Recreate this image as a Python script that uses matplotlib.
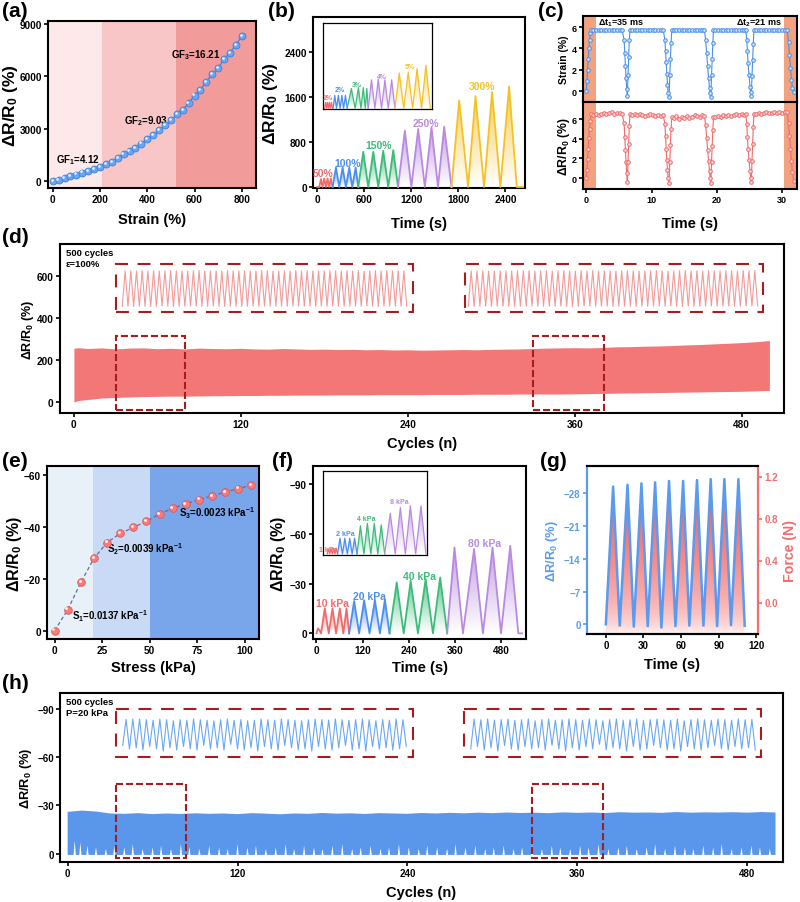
import numpy as np
import matplotlib
matplotlib.use("Agg")
import matplotlib.pyplot as plt
from matplotlib.colors import to_rgb
from matplotlib.patches import Rectangle
from matplotlib.transforms import offset_copy

plt.rcParams["font.family"] = ["Liberation Sans", "DejaVu Sans"]
plt.rcParams["font.weight"] = "bold"
plt.rcParams["axes.labelweight"] = "bold"
plt.rcParams["axes.linewidth"] = 1.5
plt.rcParams["mathtext.fontset"] = "custom"
plt.rcParams["mathtext.rm"] = "Liberation Sans:bold"
plt.rcParams["mathtext.bf"] = "Liberation Sans:bold"
plt.rcParams["mathtext.it"] = "Liberation Sans:bold"
plt.rcParams["mathtext.default"] = "bf"

# ---------------- (a) strain response ----------------
a_strain = [0, 25, 50, 75, 100, 125, 150, 175, 200, 225, 250, 275, 300, 325, 350, 375, 400,
            425, 450, 475, 500, 525, 550, 575, 600, 625, 650, 675, 700, 725, 750, 775, 800]
a_resp = [0, 70, 160, 260, 370, 480, 590, 700, 820, 950, 1090, 1300, 1560, 1720, 1900, 2150, 2380,
          2650, 2900, 3190, 3470, 3820, 4080, 4470, 4900, 5230, 5690, 6130, 6470, 7000, 7350, 7800, 8300]
a_regions = [210, 520]
a_gf = ["GF$_1$=4.12", "GF$_2$=9.03", "GF$_3$=16.21"]
a_gf_pos = [(15, 1250), (300, 3470), (501, 7290)]

# ---------------- (b) step strains ----------------
b_labels = ["50%", "100%", "150%", "250%", "300%"]
b_times = [
    [0, 25, 46, 67, 88, 110, 131, 152, 173, 195],
    [195, 238, 280, 323, 365, 408, 446, 489, 523],
    [523, 586, 650, 714, 778, 841, 905, 969, 1030],
    [1030, 1117, 1200, 1287, 1372, 1457, 1540, 1619, 1712],
    [1712, 1810, 1924, 2018, 2128, 2230, 2336, 2447, 2545, 2625],
]
b_values = [
    [0, 0, 140, 0, 150, 0, 150, 0, 150, 0],
    [0, 345, 0, 345, 0, 345, 0, 345, 0],
    [0, 625, 0, 625, 0, 643, 0, 655, 0],
    [0, 1000, 0, 1030, 0, 1060, 0, 1072, 0],
    [0, 1537, 0, 1614, 0, 1686, 0, 1787, 0, 0],
]
b_label_pos = [(77, 244), (382, 435), (786, 750), (1380, 1138), (2107, 1793)]
bi_labels = ["1%", "2%", "3%", "4%", "5%"]
bi_times = [
    [1.5, 2.4, 3.3, 4.2, 5.1, 6.0, 6.9, 7.8, 8.7],
    [9.2, 10.8, 12.4, 14.1, 15.7, 17.3, 18.9, 20.6, 22.2],
    [22.2, 26.0, 29.5, 32.5, 34.8, 37.0, 38.8, 40.2, 41.5],
    [41.5, 44.5, 47.6, 50.7, 53.7, 56.8, 59.9, 63.0, 66.0],
    [66.0, 70.0, 74.1, 78.2, 82.2, 86.3, 90.4, 94.4, 98.5, 100],
]
bi_values = [
    [0, 7, 0, 7, 0, 7, 0, 7, 0],
    [0, 15, 0, 15, 0, 15, 0, 15, 0],
    [0, 23, 0, 24, 0, 24, 0, 23, 0],
    [0, 33, 0, 34, 0, 33, 0, 33, 0],
    [0, 41, 0, 42, 0, 46, 0, 50, 0, 0],
]
bi_label_pos = [(4.6, 12), (15, 22), (31, 28), (54, 37), (80, 48)]

# ---------------- (c) fast response ----------------
c_time = [0.0, 0.1, 0.2, 0.3, 0.4, 0.5, 0.6, 0.75,
          1.1, 1.5, 1.9, 2.3, 2.7, 3.1, 3.5, 3.9, 4.3, 4.7, 5.1, 5.5,
          5.8, 5.9, 6.0, 6.1, 6.2, 6.3,
          6.4, 6.5, 6.6, 6.7,
          7.0, 7.4, 7.8, 8.2, 8.6, 9.0, 9.4, 9.8, 10.2, 10.6, 11.0, 11.4, 11.8,
          12.05, 12.15, 12.25, 12.35, 12.45, 12.55, 12.7,
          12.8, 12.9, 13.0, 13.1,
          13.4, 13.8, 14.2, 14.6, 15.0, 15.4, 15.8, 16.2, 16.6, 17.0, 17.4, 17.8, 18.1,
          18.3, 18.45, 18.6, 18.75, 18.9, 19.0, 19.1,
          19.2, 19.3, 19.4, 19.5,
          19.8, 20.2, 20.6, 21.0, 21.4, 21.8, 22.2, 22.6, 23.0, 23.4, 23.8, 24.2, 24.45,
          24.6, 24.7, 24.8, 24.95, 25.1, 25.2, 25.3,
          25.4, 25.5, 25.6, 25.7,
          26.0, 26.4, 26.8, 27.2, 27.6, 28.0, 28.4, 28.8, 29.2, 29.6, 30.0, 30.4, 30.8,
          31.0, 31.15, 31.3, 31.45, 31.6, 31.8]
c_strain = [0.0, 1.0, 2.0, 3.0, 4.0, 4.8, 5.4, 5.7,
            5.7, 5.7, 5.7, 5.7, 5.7, 5.7, 5.7, 5.7, 5.7, 5.7, 5.7, 5.7,
            4.8, 3.6, 2.4, 1.2, 0.2, -0.4,
            1.5, 3.2, 4.8, 5.7,
            5.7, 5.7, 5.7, 5.7, 5.7, 5.7, 5.7, 5.7, 5.7, 5.7, 5.7, 5.7, 5.7,
            4.8, 3.8, 2.7, 1.6, 0.6, -0.2, -0.5,
            1.5, 3.0, 4.5, 5.7,
            5.7, 5.7, 5.7, 5.7, 5.7, 5.7, 5.7, 5.7, 5.7, 5.7, 5.7, 5.7, 5.7,
            4.8, 3.6, 2.4, 1.2, 0.3, -0.2, -0.5,
            1.5, 3.0, 4.5, 5.7,
            5.7, 5.7, 5.7, 5.7, 5.7, 5.7, 5.7, 5.7, 5.7, 5.7, 5.7, 5.7, 5.7,
            4.8, 3.8, 2.6, 1.5, 0.4, -0.1, -0.4,
            1.4, 2.9, 4.4, 5.7,
            5.7, 5.7, 5.7, 5.7, 5.7, 5.7, 5.7, 5.7, 5.7, 5.7, 5.7, 5.7, 5.7,
            4.6, 3.4, 2.2, 1.1, 0.3, -0.1]
c_resp = [0.0, 0.8, 1.9, 3.0, 4.1, 5.0, 5.8, 6.5,
          6.4, 6.5, 6.4, 6.5, 6.6, 6.5, 6.6, 6.7, 6.5, 6.6, 6.6, 6.5,
          5.6, 4.2, 2.9, 1.6, 0.5, -0.4,
          1.6, 3.5, 5.3, 6.5,
          6.4, 6.5, 6.4, 6.5, 6.4, 6.3, 6.4, 6.5, 6.4, 6.3, 6.4, 6.3, 6.4,
          5.5, 4.3, 3.0, 1.8, 0.8, 0.0, -0.5,
          1.6, 3.4, 5.0, 6.2,
          6.1, 6.3, 6.0, 6.2, 6.1, 6.3, 6.1, 6.2, 6.4, 6.3, 6.2, 6.4, 6.3,
          5.4, 4.1, 2.9, 1.7, 0.7, 0.0, -0.5,
          1.6, 3.3, 4.9, 6.2,
          6.2, 6.3, 6.2, 6.4, 6.3, 6.4, 6.3, 6.4, 6.5, 6.4, 6.5, 6.4, 6.5,
          5.5, 4.2, 3.0, 1.8, 0.7, 0.0, -0.4,
          1.7, 3.5, 5.2, 6.5,
          6.5, 6.6, 6.5, 6.6, 6.7, 6.6, 6.6, 6.7, 6.6, 6.7, 6.6, 6.7, 6.7,
          5.6, 4.3, 3.0, 1.7, 0.6, -0.3]
c_shade = [(-0.5, 1.44), (30.35, 32.3)]

# ---------------- (d) 500 cycles, strain 100% ----------------
d_cycles = [0, 3, 10, 20, 30, 40, 50, 60, 70, 80, 90, 100, 110, 120, 130, 140, 150, 160, 170, 180,
            190, 200, 210, 220, 230, 240, 250, 260, 270, 280, 290, 300, 310, 320, 330, 340, 350,
            360, 370, 380, 390, 400, 410, 420, 430, 440, 450, 460, 470, 480, 490, 500]
d_upper = [255, 258, 254, 257, 252, 256, 257, 253, 255, 252, 256, 254, 253, 255, 252, 251, 254, 252,
           250, 251, 249, 250, 248, 249, 247, 248, 246, 247, 248, 249, 248, 250, 251, 252, 254, 256,
           257, 258, 257, 259, 262, 263, 265, 266, 268, 271, 273, 276, 279, 282, 286, 292]
d_lower = [0, 7, 12, 19, 22, 24, 26, 27, 28, 28, 29, 30, 30, 31, 31, 32, 32, 33, 33, 33, 34, 34,
           34, 35, 35, 35, 35, 36, 36, 36, 37, 37, 37, 38, 38, 38, 38, 39, 40, 41, 42, 43, 44, 45,
           46, 47, 48, 49, 50, 51, 53, 55]
d_in1_cycles = list(range(30, 80))
d_in1_peaks = [254, 255, 253, 256, 254, 255, 253, 254, 256, 255, 254, 253, 255, 256, 254, 253, 255,
               254, 256, 253, 254, 255, 253, 254, 256, 255, 253, 254, 255, 254, 256, 253, 255, 254,
               253, 255, 256, 254, 253, 255, 254, 256, 253, 254, 255, 253, 256, 254, 255, 254]
d_in1_valleys = [26, 27, 26, 27, 27, 26, 27, 28, 27, 26, 27, 27, 28, 27, 26, 27, 28, 27, 27, 28, 27,
                 26, 27, 28, 27, 28, 27, 27, 28, 27, 28, 27, 28, 28, 27, 28, 27, 28, 28, 27, 28, 28,
                 27, 28, 28, 27, 28, 28, 27, 28, 28]
d_in2_cycles = list(range(330, 380))
d_in2_peaks = [257, 256, 258, 257, 255, 258, 257, 256, 258, 257, 259, 256, 257, 258, 256, 257, 259,
               257, 256, 258, 257, 259, 256, 258, 257, 256, 258, 259, 257, 256, 258, 257, 259, 258,
               256, 257, 258, 259, 257, 258, 256, 259, 258, 257, 259, 258, 257, 259, 258, 259]
d_in2_valleys = [38, 37, 38, 38, 37, 38, 39, 38, 37, 38, 38, 39, 38, 37, 38, 39, 38, 38, 37, 38, 39,
                 38, 38, 39, 38, 37, 38, 39, 38, 38, 39, 38, 38, 39, 38, 39, 38, 38, 39, 39, 38, 39,
                 39, 38, 39, 39, 38, 39, 40, 39, 39]

# ---------------- (e) pressure sensitivity ----------------
e_stress = [0, 6.9, 13.8, 20.7, 27.6, 34.5, 41.4, 48.3, 55.2, 62.1, 69.0, 75.9, 82.8, 89.7, 96.6, 103.5]
e_resp = [0, -8.1, -18.6, -27.9, -34.0, -37.5, -39.8, -42.2, -45.0, -47.2, -48.9, -50.5, -52.0,
          -53.4, -54.8, -56.1]
e_regions = [20, 50]
e_labels = ["S$_1$=0.0137 kPa$^{-1}$", "S$_2$=0.0039 kPa$^{-1}$", "S$_3$=0.0023 kPa$^{-1}$"]
e_label_pos = [(9.1, -5.8), (27.5, -31.7), (65.6, -45.6)]

# ---------------- (f) step pressures ----------------
f_labels = ["10 kPa", "20 kPa", "40 kPa", "80 kPa"]
f_times = [
    [0, 4, 9, 12, 21.7, 32, 41.7, 51, 60.8, 70, 78.2, 85],
    [85, 98, 111, 124, 138, 152, 165, 178, 190],
    [190, 208.7, 227, 245, 264, 284, 303, 321.7, 340],
    [340, 359, 381, 410, 433, 458, 480, 504, 525, 535],
]
f_values = [
    [0, -3, -1.5, 0, -15.1, 0, -15.1, 0, -15.1, 0, -15.1, 0],
    [0, -19.5, 0, -20.0, 0, -20.0, 0, -20.3, 0],
    [0, -30.7, 0, -31.7, 0, -32.7, 0, -33.7, 0],
    [0, -51.8, 0, -50.8, 0, -51.8, 0, -52.8, 0, 0],
]
f_label_pos = [(41.7, -18.3), (137, -22.7), (268, -34.7), (436, -54.4)]
fi_labels = ["1 kPa", "2 kPa", "4 kPa", "8 kPa"]
fi_times = [
    [4, 5.2, 6.5, 7.7, 9, 10.2, 11.5, 12.7, 14],
    [14, 16.3, 18.7, 21, 23.4, 25.7, 28, 30.4, 32.7],
    [32.7, 36, 39.3, 42.7, 46, 49.3, 52.7, 56, 59.3],
    [59.3, 64.7, 69.5, 74.4, 79.2, 84.0, 89.1, 94.2, 99],
]
fi_values = [
    [0, -6, 0, -7, 0, -7, 0, -7, 0],
    [0, -19, 0, -19, 0, -19, 0, -19, 0],
    [0, -34, 0, -37, 0, -37, 0, -35, 0],
    [0, -49, 0, -56, 0, -58, 0, -58, 0],
]
fi_label_pos = [(5.5, -6), (21.5, -25), (42, -43), (73, -63)]

# ---------------- (g) response vs force ----------------
g_time = [0, 5.8, 11.1, 17.3, 22.3, 28.4, 33.4, 39.3, 44.3, 50.4, 55.5, 61.6, 66.6, 72.7, 77.8,
          83.6, 88.7, 94.5, 99.8, 105.7, 110.7]
g_resp = [0, -29.4, 0.3, -29.8, 0.5, -30.1, 0.4, -30.3, 0.7, -30.6, 0.4, -30.6, 0.3, -30.8, 0.3,
          -31.0, 0.4, -31.0, 0.2, -31.0, 0.3]
g_force = [-0.3, 1.06, -0.3, 1.08, -0.3, 1.09, -0.3, 1.10, -0.3, 1.11, -0.3, 1.11, -0.3, 1.12,
           -0.3, 1.12, -0.3, 1.13, -0.3, 1.13, -0.3]

# ---------------- (h) 500 cycles, 20 kPa ----------------
h_cycles = [0, 10, 20, 30, 40, 50, 60, 70, 80, 90, 100, 110, 120, 130, 140, 150, 160, 170, 180, 190,
            200, 210, 220, 230, 240, 250, 260, 270, 280, 290, 300, 310, 320, 330, 340, 350, 360, 370,
            380, 390, 400, 410, 420, 430, 440, 450, 460, 470, 480, 490, 500]
h_upper = [-26.0, -26.8, -26.2, -25.0, -24.8, -25.2, -24.6, -25.0, -24.7, -25.1, -24.8, -25.0, -24.6,
           -25.2, -24.9, -24.5, -25.0, -24.8, -25.3, -24.9, -25.1, -24.7, -25.2, -25.0, -24.8, -25.3,
           -25.0, -25.4, -25.1, -25.5, -25.2, -25.6, -25.3, -25.5, -25.2, -25.7, -25.4, -25.6, -25.3,
           -25.8, -25.5, -25.6, -25.4, -25.9, -25.5, -25.7, -25.6, -25.8, -25.5, -25.9, -25.6]
h_base = 0.8
h_spike_cycles = [5, 9, 14, 20, 27, 33, 40, 46, 53, 60, 66, 73, 80, 86, 93, 100, 107, 113, 120, 127,
                  133, 140, 147, 154, 160, 167, 174, 180, 187, 194, 201, 207, 214, 221, 227, 234, 241,
                  248, 254, 261, 268, 274, 281, 288, 295, 301, 308, 315, 321, 328, 335, 342, 348, 355,
                  362, 368, 375, 382, 389, 395, 402, 409, 415, 422, 429, 436, 442, 449, 456, 462, 469,
                  476, 483, 489, 496]
h_spike_depth = [8, 7, 5, 4, 3, 5, 4, 6, 3, 4, 5, 3, 6, 4, 3, 5, 4, 3, 6, 4, 5, 3, 4, 6, 3, 5, 4, 3,
                 5, 6, 3, 4, 5, 3, 4, 6, 4, 3, 5, 4, 3, 6, 4, 5, 3, 4, 5, 3, 4, 6, 3, 5, 4, 3, 5, 4,
                 6, 3, 4, 5, 3, 4, 6, 3, 5, 4, 3, 5, 4, 6, 3, 4, 5, 4, 3]
h_in1_cycles = list(range(37, 79))
h_in1_peaks = [-25.2, -25.6, -25.5, -25.1, -24.6, -25.5, -25.0, -24.2, -25.1, -24.7,
               -25.6, -25.0, -24.6, -24.1, -25.0, -25.5, -24.6, -25.1, -24.2, -24.6,
               -25.5, -25.0, -24.7, -25.6, -25.1, -24.6, -24.2, -25.0, -25.5, -25.1,
               -24.7, -25.6, -25.0, -24.6, -25.1, -25.5, -25.0, -24.2, -25.1, -24.7,
               -25.6, -25.0]
h_in1_valleys = [-5.2, -2.5, -3.4, -1.8, -4.3, -2.6, -0.9, -3.5, -1.7, -4.4,
                 -2.6, -1.8, -5.3, -2.5, -3.4, -1.7, -6.1, -2.6, -1.8, -3.5,
                 -0.9, -4.3, -2.6, -1.7, -5.2, -3.4, -1.8, -2.6, -0.9, -4.4,
                 -2.5, -1.7, -3.4, -5.2, -1.8, -2.6, -0.9, -4.3, -2.5, -3.5,
                 -1.7, -2.6, -4.4]
h_in2_cycles = list(range(333, 375))
h_in2_peaks = [-25.5, -25.0, -25.6, -24.7, -25.1, -25.5, -24.6, -25.0, -25.6, -24.2,
               -25.1, -25.5, -24.7, -25.0, -25.6, -25.1, -24.6, -25.5, -25.0, -24.2,
               -25.1, -25.6, -24.7, -25.0, -25.5, -24.6, -25.1, -25.6, -25.0, -24.7,
               -25.5, -24.2, -25.1, -25.6, -25.0, -24.6, -25.5, -25.1, -24.7, -25.6,
               -25.0, -25.2]
h_in2_valleys = [-2.6, -4.3, -1.8, -3.4, -0.9, -5.2, -2.5, -1.7, -4.4, -2.6,
                 -3.5, -1.8, -5.3, -2.5, -0.9, -3.4, -1.7, -4.3, -2.6, -6.1,
                 -1.8, -3.5, -2.6, -0.9, -4.4, -1.7, -2.5, -5.2, -3.4, -1.8,
                 -2.6, -0.9, -4.3, -2.5, -1.7, -3.5, -5.2, -2.6, -1.8, -4.4,
                 -2.5, -3.4, -1.7]

# ---------------- colours ----------------
RED, BLUE, GREEN, PURPLE, YELLOW = "#f26b6b", "#4d8ff0", "#3dbb7a", "#b98ae0", "#f5c226"
seg_colors = [RED, BLUE, GREEN, PURPLE, YELLOW]
BOX = "#a51d1d"

W, H = 800, 903
fig = plt.figure(figsize=(8, 9.03), dpi=100)


def px_axes(x0, y0, x1, y1):
    return fig.add_axes([x0 / W, 1 - y1 / H, (x1 - x0) / W, (y1 - y0) / H])


def place_labels(ax, ext, ylab_x=None, xlab_y=None):
    x0, y0, x1, y1 = ext
    if ylab_x is not None:
        ax.yaxis.label.set_va("center")
        ax.yaxis.set_label_coords((ylab_x - x0) / (x1 - x0), 0.5)
    if xlab_y is not None:
        ax.xaxis.label.set_va("center")
        ax.xaxis.set_label_coords(0.5, (y1 - xlab_y) / (y1 - y0))


def ticks(ax, size=7.2):
    ax.tick_params(labelsize=size, pad=1.5, length=3, width=1.2)


def grad_fill(ax, x, y, color, base=0.0, alpha=0.85, power=1.0, zorder=2):
    x = np.asarray(x, float)
    y = np.asarray(y, float)
    poly = ax.fill_between(x, y, base, facecolor="none", edgecolor="none")
    lo, hi = min(y.min(), base), max(y.max(), base)
    rows = np.linspace(lo, hi, 200)
    frac = np.abs(rows - base) / max(abs(lo - base), abs(hi - base))
    img = np.zeros((200, 1, 4))
    img[:, 0, :3] = to_rgb(color)
    img[:, 0, 3] = alpha * frac ** power
    im = ax.imshow(img, extent=(x.min(), x.max(), lo, hi), origin="lower",
                   aspect="auto", interpolation="bilinear", zorder=zorder)
    im.set_clip_path(poly.get_paths()[0], transform=ax.transData)


def spheres(ax, x, y, face, edge, ms):
    ax.plot(x, y, "o", ms=ms, mfc=face, mec=edge, mew=0.6, zorder=4)
    tr = offset_copy(ax.transData, fig=fig, x=-ms * 0.17, y=ms * 0.17, units="points")
    ax.plot(x, y, "o", ms=ms * 0.38, mfc="white", mec="none", alpha=0.85, transform=tr, zorder=5)


def zigzag(cycles, peaks, valleys):
    xs, ys = [], []
    for c, p, v in zip(cycles, peaks, valleys):
        xs += [c, c + 0.5]
        ys += [v, p]
    xs.append(cycles[-1] + 1)
    ys.append(valleys[-1])
    return xs, ys


def dashed_box(ax, x, y, w, h, small=False):
    ls = (0, (3.4, 1.4)) if small else (0, (6.2, 4.6))
    ax.add_patch(Rectangle((x, y), w, h, fill=False, ec=BOX, lw=1.5, ls=ls, zorder=6))


def clean_inset(ax):
    ax.set_xticks([])
    ax.set_yticks([])
    ax.patch.set_alpha(0)
    for s in ax.spines.values():
        s.set_visible(False)


def panel(x, y, s):
    fig.text(x / W, 1 - y / H, s, fontsize=15, va="top", ha="left")


# ======================= (a) =======================
ext = (48, 22, 256, 189)
ax = px_axes(*ext)
ax.axvspan(-20, a_regions[0], color="#fde9e9", lw=0)
ax.axvspan(a_regions[0], a_regions[1], color="#f8c6c6", lw=0)
ax.axvspan(a_regions[1], 860, color="#f19b9b", lw=0)
ax.plot(a_strain, a_resp, color="#3f7fd8", lw=0.8, zorder=3)
spheres(ax, a_strain, a_resp, "#69a6f2", "#3f7fd8", 5)
for s, (x, y) in zip(a_gf, a_gf_pos):
    ax.text(x, y, s, fontsize=7, va="center")
ax.set_xlim(-20, 860)
ax.set_ylim(-400, 9170)
ax.set_xticks([0, 200, 400, 600, 800])
ax.set_yticks([0, 3000, 6000, 9000])
ticks(ax)
ax.set_xlabel("Strain (%)", fontsize=10.5)
ax.set_ylabel("ΔR/R$_0$ (%)", fontsize=12.5)
place_labels(ax, ext, 10.5, 220)
panel(2, 2, "(a)")

# ======================= (b) =======================
ext = (313, 18, 525, 189)
ax = px_axes(*ext)
for t, v, c in zip(b_times, b_values, seg_colors):
    grad_fill(ax, t, v, c)
    ax.plot(t, v, color=c, lw=1.3, zorder=3)
for s, (x, y), c in zip(b_labels, b_label_pos, seg_colors):
    ax.text(x, y, s, color=c, fontsize=7.5, ha="center", va="center")
ax.set_xlim(-55, 2650)
ax.set_ylim(-18, 3020)
ax.set_xticks([0, 600, 1200, 1800, 2400])
ax.set_yticks([0, 800, 1600, 2400])
ticks(ax)
ax.set_xlabel("Time (s)", fontsize=10.5)
ax.set_ylabel("ΔR/R$_0$ (%)", fontsize=12.5)
place_labels(ax, ext, 271, 224)
panel(268, 2, "(b)")

axi = px_axes(323, 24, 432, 110)
for t, v, c in zip(bi_times, bi_values, seg_colors):
    grad_fill(axi, t, v, c, alpha=0.7)
    axi.plot(t, v, color=c, lw=0.9, zorder=3)
for s, (x, y), c in zip(bi_labels, bi_label_pos, seg_colors):
    axi.text(x, y, s, color=c, fontsize=5, ha="center", va="center")
axi.set_xlim(0, 100)
axi.set_ylim(-0.8, 99)
axi.set_xticks([])
axi.set_yticks([])
for s in axi.spines.values():
    s.set_linewidth(0.9)

# ======================= (c) =======================
ext_t = (583, 17, 797, 103)
ext_b = (583, 103, 797, 190)
axt = px_axes(*ext_t)
axb = px_axes(*ext_b)
for a_ in (axt, axb):
    for lo, hi in c_shade:
        a_.axvspan(lo, hi, color="#f2a27e", lw=0)
    a_.set_xlim(-0.5, 32.3)
    a_.set_xticks([0, 10, 20, 30])
    ticks(a_, 6.5)
axt.plot(c_time, c_strain, "-o", color="#4a8fe8", lw=0.8, ms=2.6, mfc="#cfe2fb", mec="#4a8fe8", mew=0.7)
axb.plot(c_time, c_resp, "-o", color="#f06a6a", lw=0.8, ms=2.6, mfc="#fbd6d6", mec="#f06a6a", mew=0.7)
axt.set_ylim(-1, 7.03)
axb.set_ylim(-1.1, 7.73)
axt.set_yticks([0, 2, 4, 6])
axb.set_yticks([0, 2, 4, 6])
axt.tick_params(axis="x", bottom=False, labelbottom=False)
axt.text(1.8, 6.45, "Δt$_1$=35 ms", fontsize=6.5, va="center")
axt.text(30.0, 6.45, "Δt$_2$=21 ms", fontsize=6.5, va="center", ha="right")
axt.set_ylabel("Strain (%)", fontsize=7.5)
axb.set_ylabel("ΔR/R$_0$ (%)", fontsize=8.8)
axb.set_xlabel("Time (s)", fontsize=10.5)
place_labels(axt, ext_t, 564)
place_labels(axb, ext_b, 564, 224)
panel(538, 2, "(c)")

# ======================= (d) =======================
ext = (60, 245, 784, 414)
ax = px_axes(*ext)
ax.fill_between(d_cycles, d_lower, d_upper, color="#f47777", lw=0, zorder=2)
dashed_box(ax, 30, -37, 50, 352, small=True)
dashed_box(ax, 330, -37, 51, 352, small=True)
dashed_box(ax, 30, 426, 214, 229)
dashed_box(ax, 281, 426, 214.6, 229)
ax.set_xlim(-10, 510.5)
ax.set_ylim(-52, 750)
ax.set_xticks([0, 120, 240, 360, 480])
ax.set_yticks([0, 200, 400, 600])
ticks(ax)
ax.text(0.008, 0.975, "500 cycles\nε=100%", transform=ax.transAxes, fontsize=6.8, va="top",
        linespacing=1.25)
ax.set_xlabel("Cycles (n)", fontsize=10.5)
ax.set_ylabel("ΔR/R$_0$ (%)", fontsize=9)
place_labels(ax, ext, 28, 444)
panel(2, 228, "(d)")

for cyc, pk, vl, xx in [(d_in1_cycles, d_in1_peaks, d_in1_valleys, (120, 409)),
                        (d_in2_cycles, d_in2_peaks, d_in2_valleys, (466, 760))]:
    axi = px_axes(xx[0], 268, xx[1], 311)
    xs, ys = zigzag(cyc, pk, vl)
    axi.plot(xs, ys, color="#f39a9a", lw=0.8)
    axi.set_xlim(cyc[0] - 0.4, cyc[-1] + 1.4)
    lo, hi = min(vl), max(pk)
    axi.set_ylim(lo - 0.1 * (hi - lo), hi + 0.1 * (hi - lo))
    clean_inset(axi)

# ======================= (e) =======================
ext = (47, 467, 259, 640)
ax = px_axes(*ext)
ax.axvspan(-4, e_regions[0], color="#e8f0f8", lw=0)
ax.axvspan(e_regions[0], e_regions[1], color="#c8daf5", lw=0)
ax.axvspan(e_regions[1], 107.5, color="#79a6eb", lw=0)
ax.plot(e_stress, e_resp, ls=(0, (3, 2)), color="#6a6aa0", lw=0.9, zorder=3)
spheres(ax, e_stress, e_resp, "#f77b7b", "#e05555", 5.5)
for s, (x, y) in zip(e_labels, e_label_pos):
    ax.text(x, y, s, fontsize=7, va="center")
ax.set_xlim(-4, 107.5)
ax.set_ylim(3.2, -63.5)
ax.set_xticks([0, 25, 50, 75, 100])
ax.set_yticks([0, -20, -40, -60])
ticks(ax)
ax.set_xlabel("Stress (kPa)", fontsize=10.5)
ax.set_ylabel("ΔR/R$_0$ (%)", fontsize=11.5)
place_labels(ax, ext, 14, 668)
panel(2, 452, "(e)")

# ======================= (f) =======================
ext = (313, 467, 526, 640)
ax = px_axes(*ext)
for t, v, c in zip(f_times, f_values, seg_colors):
    grad_fill(ax, t, v, c)
    ax.plot(t, v, color=c, lw=1.3, zorder=3)
for s, (x, y), c in zip(f_labels, f_label_pos, seg_colors):
    ax.text(x, y, s, color=c, fontsize=7.5, ha="center", va="center")
ax.set_xlim(-9, 545)
ax.set_ylim(3.4, -100.9)
ax.set_xticks([0, 120, 240, 360, 480])
ax.set_yticks([0, -30, -60, -90])
ticks(ax)
ax.set_xlabel("Time (s)", fontsize=10.5)
ax.set_ylabel("ΔR/R$_0$ (%)", fontsize=11.5)
place_labels(ax, ext, 279, 668)
panel(272, 452, "(f)")

axi = px_axes(323, 472, 427, 556)
for t, v, c in zip(fi_times, fi_values, seg_colors):
    grad_fill(axi, t, v, c, alpha=0.7)
    axi.plot(t, v, color=c, lw=0.9, zorder=3)
for s, (x, y), c in zip(fi_labels, fi_label_pos, seg_colors):
    axi.text(x, y, s, color=c, fontsize=5, ha="center", va="center")
axi.set_xlim(0, 100)
axi.set_ylim(1.2, -100)
axi.set_xticks([])
axi.set_yticks([])
for s in axi.spines.values():
    s.set_linewidth(0.9)

# ======================= (g) =======================
ext = (587, 467, 758, 635)
GB, GR = "#5a9bef", "#f26d6d"
ax = px_axes(*ext)
ax2 = ax.twinx()
grad_fill(ax2, g_time, g_force, "#f05a5a", base=-0.3, alpha=1.0, power=0.5)
ax2.set_ylim(-0.3, 1.30)
ax2.set_yticks([0.0, 0.4, 0.8, 1.2])
ax.set_zorder(ax2.get_zorder() + 1)
ax.patch.set_visible(False)
ax.plot(g_time, g_resp, color=GB, lw=1.8, zorder=3)
ax.set_xlim(-15, 121.3)
ax.set_ylim(2.07, -33.8)
ax.set_xticks([0, 30, 60, 90, 120])
ax.set_yticks([0, -7, -14, -21, -28])
ticks(ax, 7)
ticks(ax2, 7)
ax.tick_params(axis="y", colors=GB)
ax2.tick_params(axis="y", colors=GR)
ax.spines["left"].set_color(GB)
ax2.spines["left"].set_color(GB)
ax.spines["right"].set_color(GR)
ax2.spines["right"].set_color(GR)
ax.set_xlabel("Time (s)", fontsize=10.5)
ax.set_ylabel("ΔR/R$_0$ (%)", fontsize=9.3, color=GB)
ax2.set_ylabel("Force (N)", fontsize=10.2, color=GR)
place_labels(ax, ext, 552, 665)
place_labels(ax2, ext, 790)
panel(540, 452, "(g)")

# ======================= (h) =======================
ext = (60, 694, 783, 863)
ax = px_axes(*ext)
low_x, low_y = [0.0], [h_base]
for c, dpt in zip(h_spike_cycles, h_spike_depth):
    low_x += [c - 0.8, c, c + 0.8]
    low_y += [h_base, -dpt, h_base]
low_x.append(h_cycles[-1])
low_y.append(h_base)
ax.fill(list(h_cycles) + low_x[::-1], list(h_upper) + low_y[::-1], color="#5a96ea", lw=0, zorder=2)
dashed_box(ax, 33.9, -43.2, 49.4, 45.6, small=True)
dashed_box(ax, 328, -43.2, 50, 45.6, small=True)
dashed_box(ax, 33.9, -90, 209.9, 30)
dashed_box(ax, 279.8, -90, 210.2, 30)
ax.set_xlim(-5.4, 505.3)
ax.set_ylim(5.2, -100)
ax.set_xticks([0, 120, 240, 360, 480])
ax.set_yticks([0, -30, -60, -90])
ticks(ax, 7)
ax.text(0.008, 0.975, "500 cycles\nP=20 kPa", transform=ax.transAxes, fontsize=6.8, va="top",
        linespacing=1.25)
ax.set_xlabel("Cycles (n)", fontsize=10.5)
ax.set_ylabel("ΔR/R$_0$ (%)", fontsize=9.2)
place_labels(ax, ext, 26, 893)
panel(2, 674, "(h)")

for cyc, pk, vl, xx in [(h_in1_cycles, h_in1_peaks, h_in1_valleys, (120, 409)),
                        (h_in2_cycles, h_in2_peaks, h_in2_valleys, (468, 758))]:
    axi = px_axes(xx[0], 712, xx[1], 756)
    xs, ys = zigzag(cyc, pk, vl)
    axi.plot(xs, ys, color="#6aa8f2", lw=0.8)
    axi.set_xlim(cyc[0] - 0.4, cyc[-1] + 1.4)
    axi.set_ylim(2.1, -31.7)
    clean_inset(axi)

fig.savefig("out.png", dpi=100)
